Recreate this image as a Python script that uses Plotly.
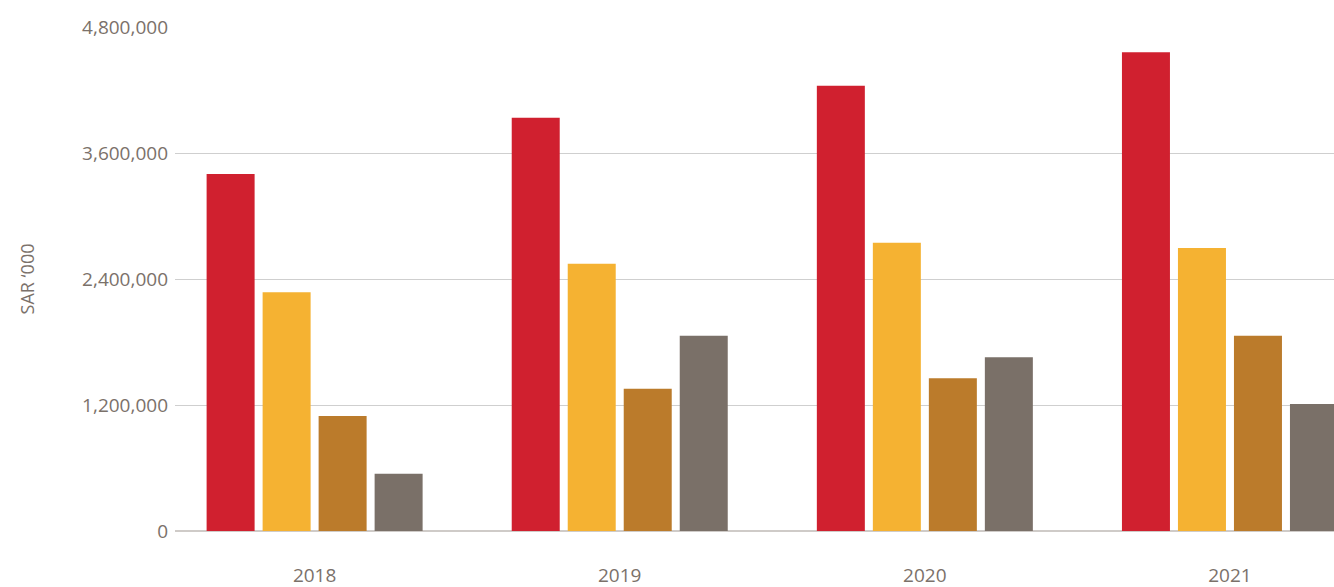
import plotly.graph_objects as go

years = ["2018", "2019", "2020", "2021"]
series_names = ["Series A", "Series B", "Series C", "Series D"]
series_a = [3400000, 3935000, 4240000, 4560000]
series_b = [2275000, 2545000, 2745000, 2695000]
series_c = [1095000, 1355000, 1455000, 1860000]
series_d = [545000, 1860000, 1655000, 1210000]
colors = ["#D0202F", "#F5B232", "#BB7B2B", "#7A7068"]
tick_vals = [0, 1200000, 2400000, 3600000, 4800000]

fig = go.Figure()
for name, vals, col in zip(series_names, [series_a, series_b, series_c, series_d], colors):
    fig.add_trace(go.Bar(x=years, y=vals, name=name, marker=dict(color=col, line=dict(width=0))))

font_col = "#7B716A"
fig.update_layout(
    width=1334, height=587,
    margin=dict(l=175, r=0, t=27, b=56, autoexpand=False),
    barmode="group", bargap=0.2658, bargroupgap=0.1429,
    showlegend=False,
    plot_bgcolor="white", paper_bgcolor="white",
    font=dict(family="Open Sans", color=font_col, size=19),
)
fig.update_xaxes(
    type="category", range=[-0.4576, 3.341],
    showgrid=False, showline=False, zeroline=False,
    ticks="", ticklabelstandoff=31,
    tickfont=dict(size=19, color=font_col),
)
fig.update_yaxes(
    range=[0, 4800000], tickvals=tick_vals, tickformat=",d",
    showgrid=True, gridcolor="#CFCFCF", gridwidth=1,
    zeroline=True, zerolinecolor="#CFCBC8", zerolinewidth=2,
    showline=False, ticks="", ticklabelstandoff=6,
    tickfont=dict(size=19, color=font_col),
    title=dict(text="SAR \u2018000", font=dict(size=18, color=font_col), standoff=42),
    automargin=False,
)
fig.write_html(
    "out.html",
    config={"displayModeBar": False},
    post_script="document.body.style.margin='0';document.body.style.overflow='hidden';",
)
